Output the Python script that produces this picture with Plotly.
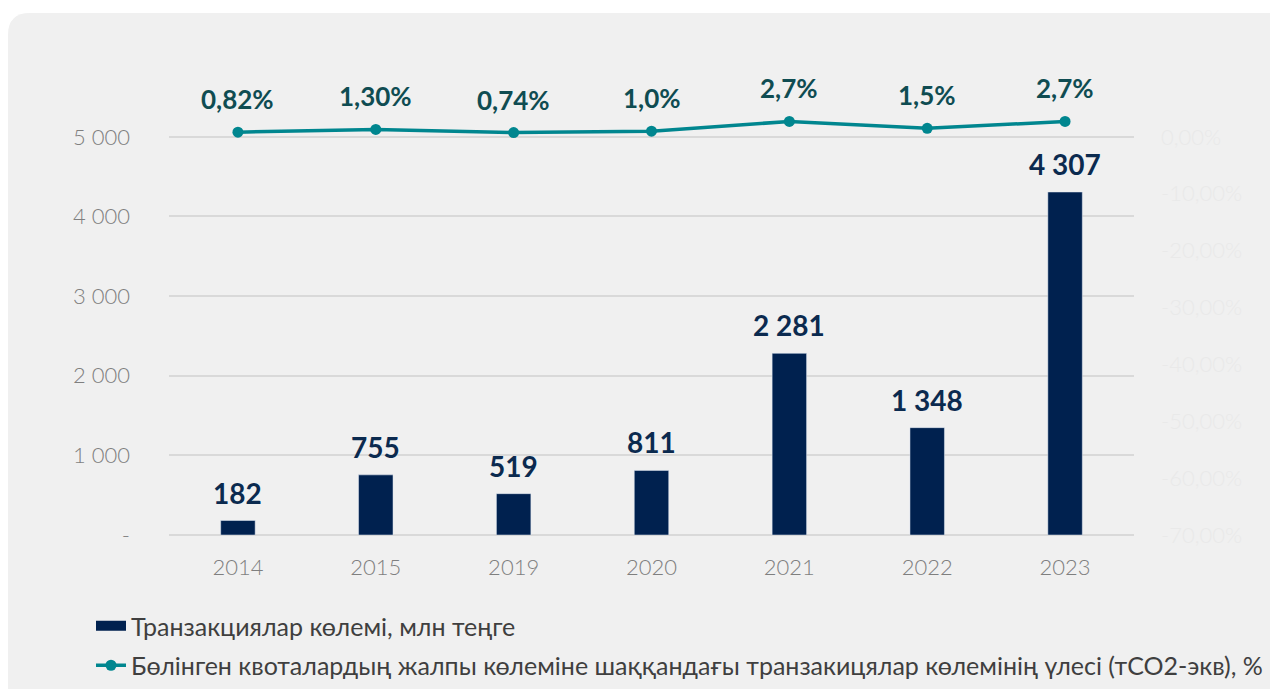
import re
import plotly.graph_objects as go

years = ["2014", "2015", "2019", "2020", "2021", "2022", "2023"]
volumes = [182, 755, 519, 811, 2281, 1348, 4307]
volume_labels = ["182", "755", "519", "811", "2 281", "1 348", "4 307"]
shares = [0.82, 1.30, 0.74, 1.0, 2.7, 1.5, 2.7]
share_labels = ["0,82%", "1,30%", "0,74%", "1,0%", "2,7%", "1,5%", "2,7%"]

y_ticks = [0, 1000, 2000, 3000, 4000, 5000]
y_ticktext = ["-", "1 000", "2 000", "3 000", "4 000", "5 000"]
y2_ticks = [0, -10, -20, -30, -40, -50, -60, -70]
y2_ticktext = ["0,00%", "-10,00%", "-20,00%", "-30,00%", "-40,00%", "-50,00%", "-60,00%", "-70,00%"]

bar_name = "Транзакциялар көлемі, млн теңге"
line_name = "Бөлінген квоталардың жалпы көлеміне шаққандағы транзакицялар көлемінің үлесі (тCO2-экв), %"

NAVY = "#00214f"
TEAL = "#00868f"
FONT = "Lato"

# page has an 8px body margin: figure coords = screen coords - 8
OFF = 8
W, H = 1278 - OFF, 689 - OFF
ml, mr, mt, mb = 169 - OFF, W - (1134 - OFF), 97 - OFF, H - (535 - OFF)

fig = go.Figure()
fig.add_trace(go.Bar(
    x=years, y=volumes, name=bar_name, marker_color=NAVY, width=0.25,
    legendgroup="a", showlegend=False, yaxis="y",
))
# legend proxy giving the wide bar swatch
fig.add_trace(go.Scatter(
    x=[None], y=[None], name=bar_name, mode="lines",
    line=dict(color=NAVY, width=10), legendgroup="a", yaxis="y",
))
fig.add_trace(go.Scatter(
    x=years, y=shares, name=line_name, mode="lines+markers",
    line=dict(color=TEAL, width=3.5), marker=dict(size=11, color=TEAL),
    legendgroup="b", yaxis="y2", cliponaxis=False,
))

# value labels (category index positions on the category axis)
for i, (v, t) in enumerate(zip(volumes, volume_labels)):
    fig.add_annotation(x=i, y=v, xref="x", yref="y", text=t, showarrow=False,
                       yshift=28, font=dict(family=FONT, size=28, color="#0b2a4f", weight="bold"))
for i, (v, t) in enumerate(zip(shares, share_labels)):
    fig.add_annotation(x=i, y=v, xref="x", yref="y2", text=t, showarrow=False,
                       yshift=33, font=dict(family=FONT, size=26, color="#0f4c52", weight="bold"))

# card background (in figure pixels)
x0, y0, x1, y1, r = 8 - OFF, 13 - OFF, 1300, 700, 22
path = (f"M{x0+r},{y0} L{x1-r},{y0} Q{x1},{y0} {x1},{y0+r} L{x1},{y1-r} Q{x1},{y1} {x1-r},{y1} "
        f"L{x0+r},{y1} Q{x0},{y1} {x0},{y1-r} L{x0},{y0+r} Q{x0},{y0} {x0+r},{y0} Z")
pw, ph = W - ml - mr, H - mt - mb
def conv(m):
    a, b = float(m.group(1)), float(m.group(2))
    return f"{(a - ml) / pw:.5f},{(H - mb - b) / ph:.5f}"
path_paper = re.sub(r"(-?[\d.]+),(-?[\d.]+)", conv, path)
fig.add_shape(type="path", path=path_paper, xref="paper", yref="paper",
              fillcolor="#f0f0f0", line=dict(width=0), layer="below")

fig.update_layout(
    width=W, height=H,
    margin=dict(l=ml, r=mr, t=mt, b=mb, autoexpand=False),
    paper_bgcolor="white", plot_bgcolor="rgba(0,0,0,0)",
    font=dict(family=FONT, color="#7f7f7f"),
    showlegend=True,
    legend=dict(
        x=(91 - OFF - ml) / pw, xanchor="left",
        y=(H - mb - (603 - OFF)) / ph, yanchor="top",
        orientation="v", tracegroupgap=4,
        font=dict(family=FONT, size=25, color="#3f3f3f"),
        bgcolor="rgba(0,0,0,0)", itemclick=False,
    ),
    xaxis=dict(
        type="category", range=[-0.5, len(years) - 0.5],
        showgrid=False, zeroline=False, showline=False,
        ticks="outside", ticklen=13, tickcolor="rgba(0,0,0,0)",
        tickfont=dict(family=FONT, size=22, color="#7f7f7f", weight=300),
    ),
    yaxis=dict(
        range=[0, 5500], tickvals=y_ticks, ticktext=y_ticktext,
        showgrid=True, gridcolor="#d9d9d9", gridwidth=1.5,
        zeroline=True, zerolinecolor="#d9d9d9", zerolinewidth=1.5,
        showline=False, ticklabelstandoff=38,
        tickfont=dict(family=FONT, size=22, color="#7f7f7f", weight=300),
    ),
    yaxis2=dict(
        range=[-70, 7], overlaying="y", side="right",
        tickvals=y2_ticks, ticktext=y2_ticktext,
        showgrid=False, zeroline=False, showline=False, ticklabelstandoff=26,
        tickfont=dict(family=FONT, size=22, color="#e9e9e9", weight=300),
    ),
)

fig.write_html("out.html")
